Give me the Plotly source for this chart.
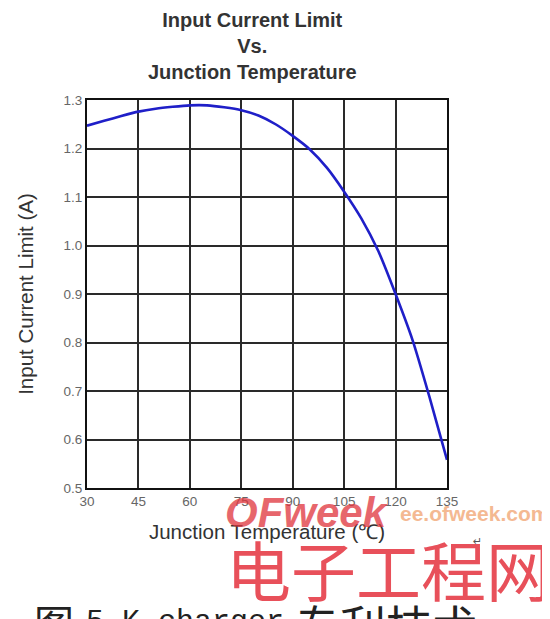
import plotly.graph_objects as go

# Data
temperature_c = [30, 35, 40, 45, 50, 55, 60, 65, 70, 75, 80, 85, 90, 95, 100, 105, 110, 115, 120, 125, 130, 135]
current_a = [1.247, 1.257, 1.267, 1.276, 1.282, 1.286, 1.289, 1.289, 1.285, 1.279, 1.268, 1.250, 1.226, 1.198,
             1.160, 1.111, 1.056, 0.988, 0.900, 0.804, 0.685, 0.558]

x_ticks = [30, 45, 60, 75, 90, 105, 120, 135]
y_ticks = [0.5, 0.6, 0.7, 0.8, 0.9, 1.0, 1.1, 1.2, 1.3]
y_tick_text = ["0.5", "0.6", "0.7", "0.8", "0.9", "1.0", "1.1", "1.2", "1.3"]

OFF = 8  # page body margin of the browser
W, H = 550 - OFF, 619 - OFF
L, R, T, B = 87 - OFF, 447 - OFF, 100 - OFF, 488 - OFF

def px(x):
    return (x - OFF - L) / (R - L)

def py(y):
    return (B - (y - OFF)) / (B - T)

fig = go.Figure()
fig.add_trace(go.Scatter(
    x=temperature_c, y=current_a, mode="lines",
    line=dict(color="#1f1fc8", width=2.6, shape="spline", smoothing=0.7),
    showlegend=False, hoverinfo="skip"))

axis_common = dict(
    showline=True, linecolor="#111", linewidth=2, mirror=True,
    showgrid=True, gridcolor="#2a2a2a", gridwidth=2,
    zeroline=False, ticks="", automargin=False,
    tickfont=dict(family="Arial, Liberation Sans", size=13.5, color="#666"),
)

fig.update_xaxes(range=[30, 135], tickvals=x_ticks, ticktext=[str(v) for v in x_ticks],
                 title=dict(text="Junction Temperature (℃)", font=dict(family="Arial, Liberation Sans", size=20.5, color="#333"), standoff=16),
                 **axis_common)
fig.update_yaxes(range=[0.5, 1.3], tickvals=y_ticks, ticktext=y_tick_text,
                 title=dict(text="Input Current Limit (A)", font=dict(family="Arial, Liberation Sans", size=20.5, color="#333"), standoff=24),
                 **axis_common)

annotations = [
    dict(text="<b>Input Current Limit<br>Vs.<br>Junction Temperature</b>",
         x=px(252), y=py(46), xref="paper", yref="paper", showarrow=False,
         xanchor="center", yanchor="middle",
         font=dict(family="Arial, Liberation Sans", size=20, color="#333")),
    dict(text="<b><i>OFweek</i></b>", x=px(307), y=py(512), xref="paper", yref="paper",
         showarrow=False, xanchor="center", yanchor="middle", opacity=0.75,
         font=dict(family="Arial, Liberation Sans", size=42, color="#e0343c")),
    dict(text="<b>ee.ofweek.com</b>", x=px(474), y=py(513), xref="paper", yref="paper",
         showarrow=False, xanchor="center", yanchor="middle", opacity=0.8,
         font=dict(family="Arial, Liberation Sans", size=21, color="#f2a878")),
    dict(text="↵", x=px(477), y=py(541), xref="paper", yref="paper",
         showarrow=False, xanchor="center", yanchor="middle",
         font=dict(family="DejaVu Sans", size=11, color="#555")),
    dict(text="电子工程网", x=px(388), y=py(568), xref="paper", yref="paper",
         showarrow=False, xanchor="center", yanchor="middle",
         font=dict(family="Noto Sans CJK SC", size=65, color="#e8505a")),
    dict(text="图", x=px(32), y=py(622), xref="paper", yref="paper",
         showarrow=False, xanchor="left", yanchor="middle",
         font=dict(family="Noto Sans CJK SC", size=40, color="#222")),
    dict(text="5 K-charger", x=px(84), y=py(622), xref="paper", yref="paper",
         showarrow=False, xanchor="left", yanchor="middle",
         font=dict(family="Liberation Mono", size=30, color="#222")),
    dict(text="专利技术", x=px(292), y=py(624), xref="paper", yref="paper",
         showarrow=False, xanchor="left", yanchor="middle",
         font=dict(family="Noto Sans CJK SC", size=46, color="#222")),
]

fig.update_layout(
    template="none",
    width=W, height=H,
    margin=dict(l=L, r=W - R, t=T, b=H - B, pad=0),
    paper_bgcolor="white", plot_bgcolor="white",
    annotations=annotations,
)

fig.write_html("out.html")
